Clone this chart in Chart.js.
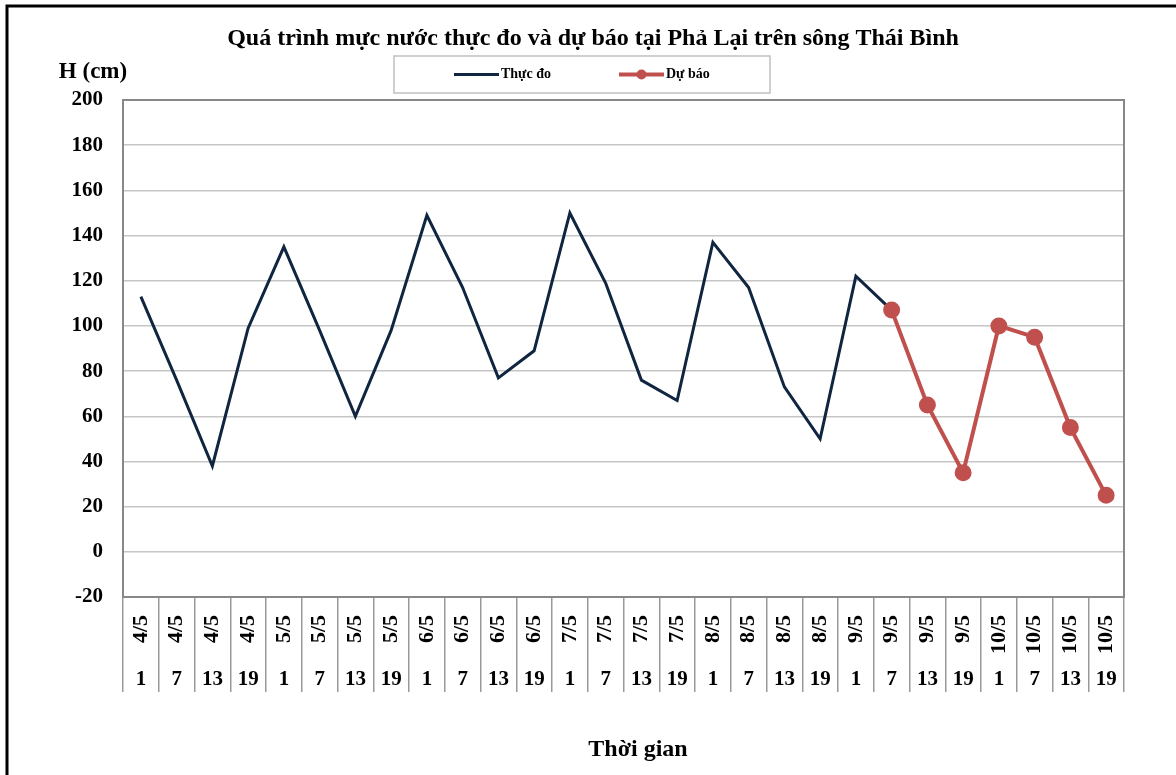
<!DOCTYPE html>
<html>
<head>
<meta charset="utf-8">
<script src="https://cdn.jsdelivr.net/npm/chart.js@4.4.0/dist/chart.umd.min.js"></script>
<style>
  html, body { margin: 0; padding: 0; background: #fff; }
  #wrap { width: 1176px; height: 775px; position: relative; }
</style>
</head>
<body>
<div id="wrap"><canvas id="waterChart" width="1176" height="775"></canvas></div>
<script>
// =====================
// Data
// =====================
const dates = ['4/5','4/5','4/5','4/5','5/5','5/5','5/5','5/5','6/5','6/5','6/5','6/5','7/5','7/5',
               '7/5','7/5','8/5','8/5','8/5','8/5','9/5','9/5','9/5','9/5','10/5','10/5','10/5','10/5'];
const hours = ['1','7','13','19','1','7','13','19','1','7','13','19','1','7',
               '13','19','1','7','13','19','1','7','13','19','1','7','13','19'];
const thucDo = [113, 76, 38, 99, 135, 98, 60, 98, 149, 117, 77, 89, 150, 119,
                76, 67, 137, 117, 73, 50, 122, 107, null, null, null, null, null, null];
const duBao = [null, null, null, null, null, null, null, null, null, null, null, null, null, null,
               null, null, null, null, null, null, null, 107, 65, 35, 100, 95, 55, 25];
const yMin = -20, yMax = 200, yStep = 20;

const TITLE = 'Quá trình mực nước thực đo và dự báo tại Phả Lại trên sông Thái Bình';
const Y_LABEL = 'H (cm)';
const X_LABEL = 'Thời gian';

const NAVY = '#10253f';
const RED = '#c0504d';
const FONT = "'Liberation Serif', 'Times New Roman', serif";

// =====================
// Frame, titles, legend
// =====================
const framePlugin = {
  id: 'frame',
  beforeDatasetsDraw(chart) {
    const {ctx, chartArea: a} = chart;
    ctx.save();
    ctx.strokeStyle = '#888';
    ctx.lineWidth = 2;
    ctx.strokeRect(a.left, a.top, a.right - a.left, a.bottom - a.top);
    ctx.restore();
  },
  afterDraw(chart) {
    const {ctx} = chart;
    ctx.save();
    // outer border (left + top)
    ctx.strokeStyle = '#000';
    ctx.lineWidth = 3;
    ctx.beginPath();
    ctx.moveTo(7, 775);
    ctx.lineTo(7, 6);
    ctx.lineTo(1176, 6);
    ctx.stroke();

    ctx.fillStyle = '#000';
    ctx.textBaseline = 'middle';
    ctx.textAlign = 'center';
    ctx.font = 'bold 24px ' + FONT;
    ctx.fillText(TITLE, 593, 39);
    ctx.font = 'bold 23px ' + FONT;
    ctx.fillText(Y_LABEL, 93, 72);
    ctx.font = 'bold 24px ' + FONT;
    ctx.fillText(X_LABEL, 638, 750);

    // legend box
    const bx = 394, by = 56, bw = 376, bh = 37;
    ctx.strokeStyle = '#c0c0c0';
    ctx.lineWidth = 1.5;
    ctx.strokeRect(bx, by, bw, bh);
    const cy = by + bh / 2;
    const items = [
      {ds: chart.data.datasets[0], x: bx + 60, marker: false},
      {ds: chart.data.datasets[1], x: bx + 225, marker: true}
    ];
    ctx.font = 'bold 14px ' + FONT;
    ctx.textAlign = 'left';
    items.forEach(it => {
      ctx.strokeStyle = it.ds.borderColor;
      ctx.lineWidth = it.ds.borderWidth;
      ctx.beginPath();
      ctx.moveTo(it.x, cy);
      ctx.lineTo(it.x + 45, cy);
      ctx.stroke();
      if (it.marker) {
        ctx.fillStyle = it.ds.pointBackgroundColor;
        ctx.beginPath();
        ctx.arc(it.x + 22.5, cy, 5, 0, Math.PI * 2);
        ctx.fill();
      }
      ctx.fillStyle = '#000';
      ctx.fillText(it.ds.label, it.x + 47, cy);
    });
    ctx.restore();
  }
};

// =====================
// Chart
// =====================
const ctx = document.getElementById('waterChart').getContext('2d');
const waterChart = new Chart(ctx, {
  type: 'line',
  data: {
    labels: dates,
    datasets: [
      {label: 'Thực đo', data: thucDo, borderColor: NAVY, backgroundColor: NAVY, borderWidth: 3,
       pointRadius: 0, tension: 0, order: 1},
      {label: 'Dự báo', data: duBao, borderColor: RED, backgroundColor: RED, pointBackgroundColor: RED,
       pointBorderColor: RED, borderWidth: 4, pointRadius: 6.5, tension: 0, order: 0}
    ]
  },
  options: {
    responsive: false,
    animation: false,
    layout: {padding: {left: 0, right: 52, top: 100, bottom: 0}},
    plugins: {legend: {display: false}, title: {display: false}, tooltip: {enabled: false}},
    scales: {
      x: {
        type: 'category', labels: dates, offset: true, weight: 0,
        grid: {offset: true, drawOnChartArea: false, drawTicks: true, tickLength: 95, color: '#999', lineWidth: 1.5},
        border: {display: true, color: '#888', width: 2},
        ticks: {autoSkip: false, minRotation: 90, maxRotation: 90, padding: -77, color: '#000',
                font: {family: FONT, size: 22, weight: 'bold'}},
        afterFit: s => { s.height = 65; }
      },
      x2: {
        type: 'category', labels: hours, offset: true, position: 'bottom', weight: 1,
        grid: {display: false, drawTicks: false},
        border: {display: false},
        ticks: {autoSkip: false, maxRotation: 0, minRotation: 0, padding: 5, color: '#000',
                font: {family: FONT, size: 21, weight: 'bold'}},
        afterFit: s => { s.height = 113; }
      },
      y: {
        min: yMin, max: yMax,
        ticks: {stepSize: yStep, padding: 20, color: '#000', font: {family: FONT, size: 21, weight: 'bold'}},
        grid: {color: '#c6c6c6', lineWidth: 1.5, drawTicks: false},
        border: {display: true, color: '#888', width: 2},
        afterFit: s => { s.width = 123; }
      }
    }
  },
  plugins: [framePlugin]
});
</script>
</body>
</html>
